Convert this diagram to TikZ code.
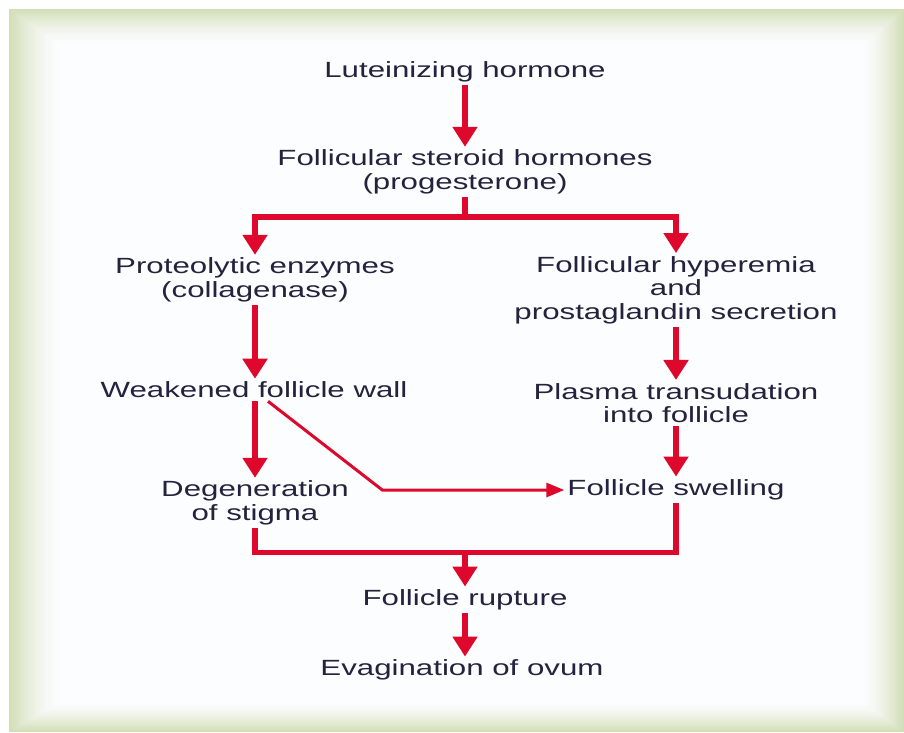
\documentclass[tikz,border=0pt]{standalone}
\usepackage{fontspec}
\setmainfont{Liberation Sans}[FakeStretch=1.42]
\usetikzlibrary{arrows.meta}

\definecolor{flowred}{RGB}{222,8,44}
\definecolor{flowtext}{RGB}{35,35,62}
\definecolor{framegreen}{RGB}{210,222,182}
\definecolor{paper}{RGB}{252,253,255}

\tikzset{
  stagetext/.style={text=flowtext, align=center, inner sep=3pt,
    font=\fontsize{22}{23.5}\selectfont},
  link/.style={draw=flowred, line width=5.5pt},
  flow/.style={link, -{Triangle[length=20pt,width=24pt]}},
  thinflow/.style={draw=flowred, line width=3pt, -{Triangle[length=18pt,width=14pt]}},
}

\begin{document}
\begin{tikzpicture}[x=1pt,y=-1pt]
  \useasboundingbox (0,0) rectangle (904,732);
  \fill[white] (0,0) rectangle (904,732);
  % soft green frame
  \foreach \i in {0,...,30}{
    \pgfmathsetmacro{\pct}{100*(1-\i/30)^1.5}
    \fill[framegreen!\pct!paper] (9+1.7*\i,9+1.2*\i) rectangle (904-1.4*\i,732-1.0*\i);
  }

  \node[stagetext] (luteinizing) at (465,72) {Luteinizing hormone};
  \node[stagetext] (steroid) at (465,172) {Follicular steroid hormones\\(progesterone)};
  \node[stagetext] (proteolytic) at (255,280) {Proteolytic enzymes\\(collagenase)};
  \node[stagetext] (hyperemia) at (676,290) {Follicular hyperemia\\and\\prostaglandin secretion};
  \node[stagetext] (weakened) at (254,390) {Weakened follicle wall};
  \node[stagetext] (plasma) at (676,403) {Plasma transudation\\into follicle};
  \node[stagetext] (degeneration) at (255,503) {Degeneration\\of stigma};
  \node[stagetext] (swelling) at (676,490) {Follicle swelling};
  \node[stagetext] (rupture) at (465,600) {Follicle rupture};
  \node[stagetext] (evagination) at (462,670) {Evagination of ovum};

  \draw[flow] (luteinizing) -- (steroid);

  % split to both branches
  \draw[link] (steroid.south) -- ++(0,20) coordinate (split);
  \draw[flow] (split) -| (proteolytic);
  \draw[flow] (split) -| (hyperemia);

  % left branch
  \draw[flow] (proteolytic.south) -- (proteolytic.south |- weakened.north);
  \draw[flow] (weakened.south -| degeneration.north) -- (degeneration.north);
  \draw[thinflow] ([xshift=14pt]weakened.south) -- ([xshift=-182pt]swelling.west) -- (swelling.west);

  % right branch
  \draw[flow] (hyperemia) -- (plasma);
  \draw[flow] (plasma) -- (swelling);

  % merge
  \coordinate (merge) at ([yshift=34pt]rupture.north);
  \draw[link] (degeneration.south) |- (merge) -| (swelling.south);
  \draw[flow] (merge) -- (rupture);
  \draw[flow] (rupture.south) -- (rupture.south |- evagination.north);
\end{tikzpicture}
\end{document}
